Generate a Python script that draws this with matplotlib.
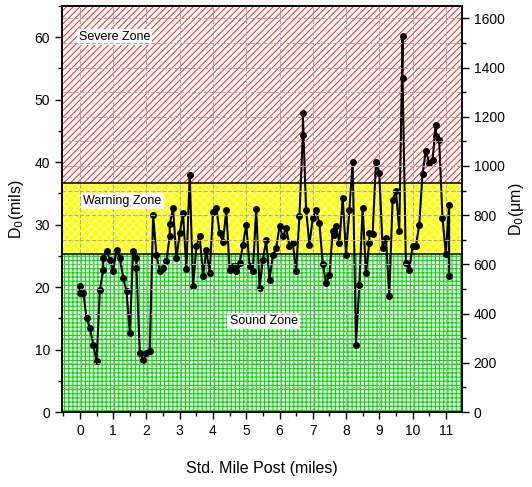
import matplotlib
matplotlib.use("Agg")
import matplotlib.pyplot as plt
from matplotlib.ticker import MultipleLocator

plt.rcParams['font.family'] = ['Liberation Sans', 'DejaVu Sans']
plt.rcParams['hatch.linewidth'] = 0.75

# deflection profile along the route
mile = [0.0, 0.0, 0.1, 0.2, 0.3, 0.4, 0.5, 0.6, 0.7, 0.7,
        0.8, 0.9, 1.0, 1.1, 1.2, 1.3, 1.4, 1.5, 1.6, 1.7,
        1.7, 1.8, 1.9, 2.0, 2.1, 2.2, 2.3, 2.4, 2.5, 2.6,
        2.7, 2.7, 2.8, 2.9, 3.0, 3.1, 3.2, 3.3, 3.4, 3.5,
        3.6, 3.7, 3.8, 3.9, 4.0, 4.1, 4.2, 4.3, 4.4, 4.5,
        4.6, 4.7, 4.7, 4.8, 4.9, 5.0, 5.1, 5.2, 5.3, 5.4,
        5.5, 5.6, 5.7, 5.8, 5.9, 6.0, 6.1, 6.2, 6.3, 6.4,
        6.5, 6.6, 6.7, 6.7, 6.8, 6.9, 7.0, 7.1, 7.2, 7.3,
        7.4, 7.5, 7.6, 7.65, 7.7, 7.8, 7.9, 8.0, 8.1, 8.2,
        8.3, 8.4, 8.5, 8.6, 8.7, 8.7, 8.8, 8.9, 9.0, 9.1,
        9.2, 9.3, 9.4, 9.5, 9.6, 9.7, 9.7, 9.8, 9.9, 10.0,
        10.1, 10.2, 10.3, 10.4, 10.5, 10.6, 10.7, 10.7, 10.8, 10.9,
        11.0, 11.1, 11.1]
d0_mils = [20.2, 19.1, 19.1, 15.0, 13.4, 10.8, 8.1, 19.6, 22.7, 24.6,
           25.8, 24.4, 22.6, 26.0, 24.6, 21.5, 19.3, 12.6, 25.8, 24.6,
           23.0, 9.4, 8.3, 9.4, 9.8, 31.5, 25.1, 22.6, 23.0, 24.2,
           28.2, 30.1, 32.6, 24.6, 28.6, 31.8, 22.9, 38.0, 20.1, 26.5,
           28.2, 21.8, 25.9, 22.2, 32.0, 32.7, 28.6, 27.2, 32.3, 22.7,
           23.3, 22.6, 23.3, 23.8, 26.7, 30.0, 23.4, 22.5, 32.5, 19.8,
           24.4, 27.5, 21.2, 25.1, 26.2, 29.7, 28.1, 29.4, 26.6, 27.0,
           22.6, 31.4, 44.4, 47.8, 32.3, 26.8, 31.1, 32.4, 30.2, 23.7,
           20.6, 21.9, 29.0, 28.3, 29.8, 27.1, 34.3, 25.2, 32.3, 40.0,
           10.8, 20.4, 32.7, 22.2, 27.1, 28.6, 28.5, 40.0, 38.2, 26.3,
           27.9, 18.6, 33.9, 35.4, 29.0, 60.1, 53.5, 23.8, 22.7, 26.5,
           26.5, 29.9, 38.1, 41.8, 39.9, 40.3, 45.9, 44.2, 43.5, 31.1,
           25.3, 33.2, 21.8]

# zone limits (mils)
sound_top = 25.3
warning_top = 36.6
ymax = 65
um_per_mil = 25.4

fig = plt.figure(figsize=(5.32, 4.87), dpi=100)
ax = fig.add_axes([0.1165, 0.154, 0.7515, 0.834])

ax.axhspan(0, sound_top, facecolor='#e6fae6', edgecolor='#11d011', hatch='++++', lw=0, zorder=0)
ax.axhspan(sound_top, warning_top, facecolor='#ffff00', edgecolor='#ffffc0', hatch='xxxx', lw=0, zorder=0)
ax.axhspan(warning_top, ymax, facecolor='white', edgecolor='#ff2a2a', hatch='/////', lw=0, zorder=0)
ax.axhline(sound_top, color='black', lw=1.1, zorder=2)
ax.axhline(warning_top, color='black', lw=1.1, zorder=2)

ax.plot(mile, d0_mils, color='black', marker='o', markersize=4, lw=1.5, zorder=4)

ax.set_xlim(-0.54, 11.48)
ax.set_ylim(0, ymax)
ax.xaxis.set_major_locator(MultipleLocator(1))
ax.xaxis.set_minor_locator(MultipleLocator(0.5))
ax.yaxis.set_major_locator(MultipleLocator(10))
ax.yaxis.set_minor_locator(MultipleLocator(5))
ax.tick_params(which='major', direction='out', length=5, width=1, labelsize=10)
ax.tick_params(which='minor', direction='out', length=3, width=1)
ax.grid(True, axis='x', which='major', color='#aaaaaa', ls='--', lw=0.8, zorder=1)
for s in ax.spines.values():
    s.set_linewidth(1.2)

ax.set_xlabel('Std. Mile Post (miles)', fontsize=11.5, labelpad=17)
ax.set_ylabel('D$_0$(mils)', fontsize=11.5, labelpad=6)

ax2 = ax.twinx()
ax2.set_ylim(0, ymax * um_per_mil)
ax2.yaxis.set_major_locator(MultipleLocator(200))
ax2.yaxis.set_minor_locator(MultipleLocator(100))
ax2.tick_params(which='major', direction='out', length=5, width=1, labelsize=10)
ax2.tick_params(which='minor', direction='out', length=3, width=1)
ax2.grid(True, which='both', color='#aaaaaa', ls='--', lw=0.8)
ax2.set_ylabel('D$_0$(\u03bcm)', fontsize=11.5, labelpad=2)
for s in ax2.spines.values():
    s.set_linewidth(1.2)

box = dict(facecolor='white', edgecolor='none', pad=1.5)
ax.text(-0.03, 60, 'Severe Zone', fontsize=9, va='center', ha='left', bbox=box, zorder=5)
ax.text(0.1, 33.8, 'Warning Zone', fontsize=9, va='center', ha='left', bbox=box, zorder=5)
ax.text(4.5, 14.6, 'Sound Zone', fontsize=9, va='center', ha='left', bbox=box, zorder=5)

fig.savefig('out.png', dpi=100)
